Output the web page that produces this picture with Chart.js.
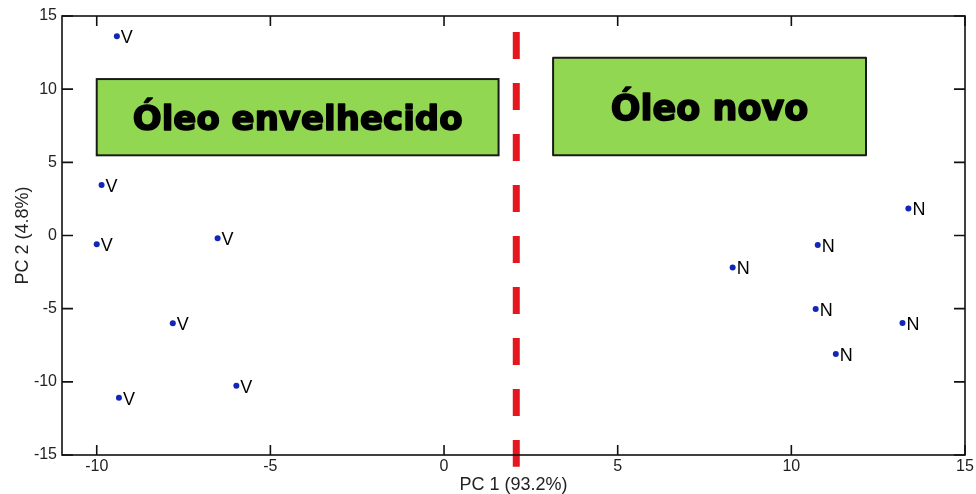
<!DOCTYPE html>
<html>
<head>
<meta charset="utf-8">
<script src="https://cdn.jsdelivr.net/npm/chart.js@4"></script>
<style>
  html, body { margin: 0; padding: 0; background: #fff; }
  #wrap { width: 976px; height: 494px; }
</style>
</head>
<body>
<div id="wrap"><canvas id="c" width="976" height="494"></canvas></div>
<script>
// PCA scores: aged oil samples (V) and new oil samples (N)
const agedX = [-9.42, -9.86, -10.0, -6.52, -7.81, -5.98, -9.36];
const agedY = [13.61, 3.45, -0.6, -0.19, -6.0, -10.27, -11.09];
const newX = [13.37, 10.76, 8.31, 10.70, 13.2, 11.28];
const newY = [1.85, -0.65, -2.18, -5.03, -5.98, -8.1];
const agedTag = 'V';
const newTag = 'N';

// dashed separator between the two groups
const dividerX = [2.08, 2.08];
const dividerY = [13.9, -15.8];

// labelled group boxes (data coordinates)
const boxText = ['Óleo envelhecido', 'Óleo novo'];
const boxLeft = [-10.0, 3.14];
const boxRight = [1.57, 12.15];
const boxTop = [10.69, 12.15];
const boxBottom = [5.48, 5.48];

const xTitle = 'PC 1 (93.2%)';
const yTitle = 'PC 2 (4.8%)';

const toPoints = (xs, ys) => xs.map((x, i) => ({ x, y: ys[i] }));

const groupBoxes = {
  id: 'groupBoxes',
  beforeDatasetsDraw(chart) {
    const { ctx, scales: { x, y } } = chart;
    ctx.save();
    boxText.forEach((t, i) => {
      const l = x.getPixelForValue(boxLeft[i]);
      const r = x.getPixelForValue(boxRight[i]);
      const tp = y.getPixelForValue(boxTop[i]);
      const bt = y.getPixelForValue(boxBottom[i]);
      ctx.fillStyle = '#92d752';
      ctx.fillRect(l, tp, r - l, bt - tp);
      ctx.lineWidth = 2;
      ctx.strokeStyle = '#1a1a1a';
      ctx.strokeRect(l, tp, r - l, bt - tp);
      // heavy black caption
      ctx.font = 'bold ' + (i === 0 ? 34 : 35) + 'px "DejaVu Sans"';
      ctx.textAlign = 'center';
      ctx.textBaseline = 'alphabetic';
      ctx.fillStyle = '#000';
      ctx.strokeStyle = '#000';
      ctx.lineWidth = 1.6;
      ctx.lineJoin = 'round';
      const cx = (l + r) / 2, cy = (tp + bt) / 2 + 13;
      ctx.strokeText(t, cx, cy);
      ctx.fillText(t, cx, cy);
    });
    ctx.restore();
  }
};

const pointTags = {
  id: 'pointTags',
  afterDatasetsDraw(chart) {
    const { ctx } = chart;
    ctx.save();
    ctx.font = '18px "Liberation Sans"';
    ctx.fillStyle = '#000';
    ctx.textAlign = 'left';
    ctx.textBaseline = 'middle';
    [1, 2].forEach(di => {
      const tag = di === 1 ? agedTag : newTag;
      chart.getDatasetMeta(di).data.forEach(pt => {
        ctx.fillText(tag, pt.x + 4, pt.y + 2);
      });
    });
    ctx.restore();
  }
};

const frameTicks = {
  id: 'frameTicks',
  afterDraw(chart) {
    const { ctx, chartArea: a, scales: { x, y } } = chart;
    ctx.save();
    ctx.strokeStyle = '#111';
    ctx.lineWidth = 1.6;
    ctx.strokeRect(a.left, a.top, a.right - a.left, a.bottom - a.top);
    ctx.beginPath();
    x.ticks.forEach(t => {
      const px = x.getPixelForValue(t.value);
      ctx.moveTo(px, a.bottom); ctx.lineTo(px, a.bottom - 10);
      ctx.moveTo(px, a.top); ctx.lineTo(px, a.top + 10);
    });
    y.ticks.forEach(t => {
      const py = y.getPixelForValue(t.value);
      ctx.moveTo(a.left, py); ctx.lineTo(a.left + 11, py);
      ctx.moveTo(a.right, py); ctx.lineTo(a.right - 11, py);
    });
    ctx.stroke();
    ctx.restore();
  }
};

new Chart(document.getElementById('c'), {
  type: 'scatter',
  data: {
    datasets: [
      {
        type: 'line',
        data: toPoints(dividerX, dividerY),
        borderColor: '#e5161e',
        borderWidth: 7,
        borderDash: [27, 24],
        borderCapStyle: 'butt',
        pointRadius: 0,
        clip: false,
        order: 3
      },
      {
        data: toPoints(agedX, agedY),
        backgroundColor: '#1226b8',
        borderWidth: 0,
        pointRadius: 3
      },
      {
        data: toPoints(newX, newY),
        backgroundColor: '#1226b8',
        borderWidth: 0,
        pointRadius: 3
      }
    ]
  },
  options: {
    responsive: false,
    animation: false,
    layout: { padding: { left: 0, top: 16, right: 11, bottom: 0 } },
    plugins: { legend: { display: false }, tooltip: { enabled: false } },
    scales: {
      x: {
        type: 'linear',
        min: -11, max: 15,
        afterFit: s => { s.height = 39; },
        grid: { display: false, drawTicks: false },
        border: { display: false },
        ticks: {
          stepSize: 5, includeBounds: false, padding: 2,
          color: '#222', font: { family: 'Liberation Sans', size: 16 },
          maxRotation: 0
        },
        title: {
          display: true, text: xTitle, color: '#222',
          font: { family: 'Liberation Sans', size: 18, lineHeight: 1 },
          padding: { top: 0, bottom: 0 }
        }
      },
      y: {
        type: 'linear',
        min: -15, max: 15,
        afterFit: s => { s.width = 62; },
        grid: { display: false, drawTicks: false },
        border: { display: false },
        ticks: {
          stepSize: 5, padding: 5,
          color: '#222', font: { family: 'Liberation Sans', size: 16 }
        },
        title: {
          display: true, text: yTitle, color: '#222',
          font: { family: 'Liberation Sans', size: 18 },
          padding: { top: 12, bottom: 0 }
        }
      }
    }
  },
  plugins: [groupBoxes, pointTags, frameTicks]
});
</script>
</body>
</html>
